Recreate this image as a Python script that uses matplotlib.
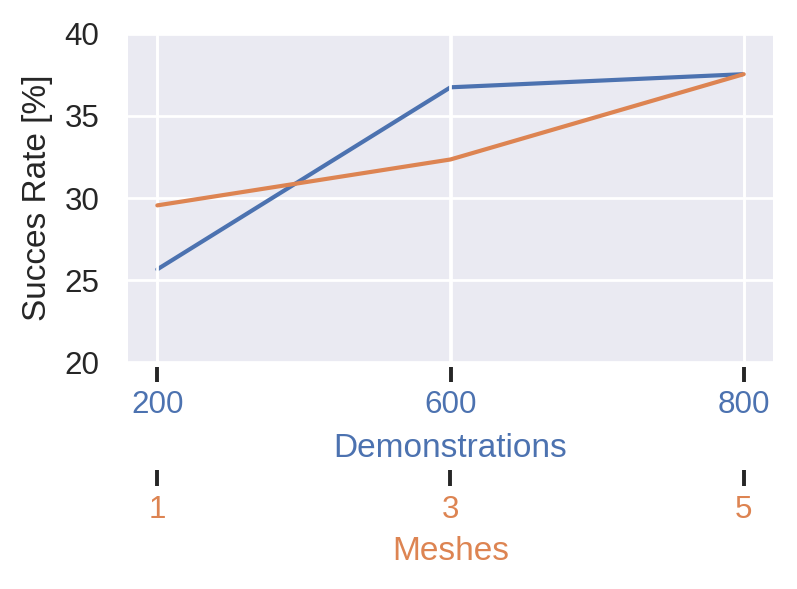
import matplotlib
matplotlib.use('Agg')
import matplotlib.pyplot as plt
import seaborn as sns

demos = ['200', '600', '800']
meshes = ['1', '3', '5']
demo_rate = [25.65, 36.75, 37.55]
mesh_rate = [29.55, 32.35, 37.55]
yticks = [20, 25, 30, 35, 40]

sns.set_theme(style='darkgrid', context='notebook')
plt.rcParams['font.family'] = ['Liberation Sans', 'DejaVu Sans']

W, H = 797, 589
fig = plt.figure(figsize=(W / 200, H / 200), dpi=200)
ax = fig.add_axes([128 / W, 1 - 362 / H, (773 - 128) / W, (362 - 34) / H])
blue, orange = sns.color_palette()[:2]
dark = '.15'

x = list(range(len(demos)))
ax.plot(x, demo_rate, color=blue, lw=1.5)
ax.set_xlim(-0.1, 2.1)
ax.set_ylim(20, 40)
ax.set_yticks(yticks)
ax.set_xticks(x)
ax.set_xticklabels(demos)
ax.set_xlabel('Demonstrations', color=blue, fontsize=12, labelpad=4.5)
ax.set_ylabel('Succes Rate [%]', fontsize=12, color=dark)
for s in ax.spines.values():
    s.set_visible(False)
ax.spines['bottom'].set_position(('outward', 1.8))
ax.tick_params(axis='x', bottom=True, length=5.4, width=1.4, color=dark,
               direction='out', labelsize=11.3, pad=3, labelcolor=blue)
ax.tick_params(axis='y', left=False, length=0, labelsize=11.3, pad=10.3,
               labelcolor=dark)

ax2 = ax.twiny()
ax2.plot(x, mesh_rate, color=orange, lw=1.5)
ax2.set_xlim(-0.1, 2.1)
ax2.xaxis.set_ticks_position('bottom')
ax2.xaxis.set_label_position('bottom')
for s in ax2.spines.values():
    s.set_visible(False)
ax2.spines['bottom'].set_position(('outward', 38.9))
ax2.set_xticks(x)
ax2.set_xticklabels(meshes)
ax2.set_xlabel('Meshes', color=orange, fontsize=12, labelpad=4)
ax2.tick_params(axis='x', bottom=True, top=False, length=5.8, width=1.4,
                color=dark, direction='out', labelsize=11.3, pad=3,
                labelcolor=orange)

fig.savefig('out.png', dpi=200)
